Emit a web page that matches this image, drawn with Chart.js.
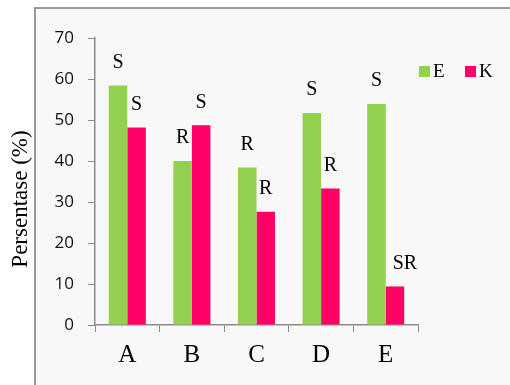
<!DOCTYPE html>
<html>
<head>
<meta charset="utf-8">
<script src="https://cdn.jsdelivr.net/npm/chart.js@4/dist/chart.umd.min.js"></script>
<style>
  html, body { margin: 0; padding: 0; background: #ffffff; }
  #wrap { width: 510px; height: 385px; }
</style>
</head>
<body>
<div id="wrap"><canvas id="c" width="510" height="385"></canvas></div>
<script>
// Categories and series
const categories = ['A', 'B', 'C', 'D', 'E'];
const seriesNames = ['E', 'K'];
const valuesE = [58.4, 40.0, 38.4, 51.7, 53.9];
const valuesK = [48.2, 48.7, 27.6, 33.3, 9.4];
// Letter annotations shown above each bar
const notesE = ['S', 'R', 'R', 'S', 'S'];
const notesK = ['S', 'S', 'R', 'R', 'SR'];
const yTicks = [0, 10, 20, 30, 40, 50, 60, 70];
const yTitle = 'Persentase (%)';

const GREEN = '#92d050';
const PINK = '#ff0066';
const SERIF = '"Liberation Serif", "Times New Roman", serif';
const SANS = '"Open Sans", "Liberation Sans", sans-serif';

// Panel background with a grey left/top border
const panelPlugin = {
  id: 'panel',
  beforeDraw(chart) {
    const ctx = chart.ctx;
    ctx.save();
    ctx.fillStyle = '#ffffff';
    ctx.fillRect(0, 0, chart.width, chart.height);
    ctx.fillStyle = '#f8f8f8';
    ctx.fillRect(35, 8, chart.width - 35, chart.height - 8);
    ctx.strokeStyle = '#9a9a9a';
    ctx.lineWidth = 2;
    ctx.beginPath();
    ctx.moveTo(35, chart.height);
    ctx.lineTo(35, 8);
    ctx.lineTo(chart.width, 8);
    ctx.stroke();
    ctx.restore();
  }
};

// Annotations above bars, vertical axis title and the legend
const extrasPlugin = {
  id: 'extras',
  afterDatasetsDraw(chart) {
    const ctx = chart.ctx;
    ctx.save();
    ctx.fillStyle = '#000000';
    ctx.font = '20px ' + SERIF;
    ctx.textAlign = 'center';
    ctx.textBaseline = 'middle';
    chart.data.datasets.forEach((ds, di) => {
      const meta = chart.getDatasetMeta(di);
      meta.data.forEach((bar, i) => {
        const txt = ds.notes[i];
        // longer tags are nudged to the right of the bar
        const dx = txt.length > 1 ? 10 : 0;
        ctx.fillText(txt, bar.x + dx, bar.y - 23);
      });
    });

    // axis title
    ctx.font = '23px ' + SERIF;
    ctx.textAlign = 'center';
    ctx.textBaseline = 'alphabetic';
    ctx.translate(27, 199);
    ctx.rotate(-Math.PI / 2);
    ctx.fillText(yTitle, 0, 0);
    ctx.restore();

    // legend
    ctx.save();
    ctx.font = '19px ' + SERIF;
    ctx.textBaseline = 'middle';
    ctx.textAlign = 'left';
    const xs = [419, 465];
    chart.data.datasets.forEach((ds, di) => {
      ctx.fillStyle = ds.backgroundColor;
      ctx.fillRect(xs[di], 66, 11, 11);
      ctx.fillStyle = '#000000';
      ctx.fillText(ds.label, xs[di] + 14, 72);
    });
    ctx.restore();
  }
};

new Chart(document.getElementById('c'), {
  type: 'bar',
  data: {
    labels: categories,
    datasets: [
      { label: seriesNames[0], data: valuesE, notes: notesE, backgroundColor: GREEN },
      { label: seriesNames[1], data: valuesK, notes: notesK, backgroundColor: PINK }
    ]
  },
  options: {
    responsive: false,
    animation: false,
    devicePixelRatio: 1,
    categoryPercentage: 0.573,
    barPercentage: 1,
    layout: { padding: { left: 0, right: 92, top: 38, bottom: 0 } },
    plugins: {
      legend: { display: false },
      tooltip: { enabled: false },
      title: { display: false }
    },
    scales: {
      x: {
        grid: { display: true, drawOnChartArea: false, drawTicks: true, tickLength: 7, color: '#8c8c8c', offset: true },
        border: { display: true, color: '#8c8c8c', width: 1.5 },
        ticks: { color: '#000000', font: { family: SERIF, size: 25 }, padding: 8 },
        afterFit(scale) { scale.height = 60; }
      },
      y: {
        min: 0,
        max: 70,
        afterBuildTicks(scale) { scale.ticks = yTicks.map(v => ({ value: v })); },
        grid: { display: true, drawOnChartArea: false, drawTicks: true, tickLength: 7, color: '#8c8c8c' },
        border: { display: true, color: '#8c8c8c', width: 1.5 },
        ticks: { color: '#111111', font: { family: SANS, size: 17 }, padding: 14 },
        afterFit(scale) { scale.width = 95; }
      }
    }
  },
  plugins: [panelPlugin, extrasPlugin]
});
</script>
</body>
</html>
